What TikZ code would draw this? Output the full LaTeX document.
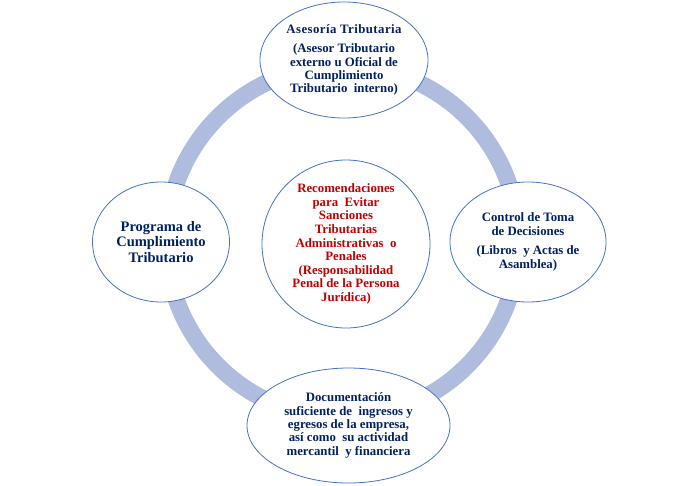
\documentclass[tikz,border=0pt]{standalone}
\usepackage{fontspec}
\setmainfont{Liberation Serif}
\usetikzlibrary{shapes.geometric}
\definecolor{anillo}{RGB}{175,188,222}
\definecolor{borde}{RGB}{68,114,196}
\definecolor{azul}{RGB}{0,32,96}
\definecolor{rojo}{RGB}{192,0,0}
\begin{document}
\begin{tikzpicture}[x=1pt,y=-1pt,
    etapa/.style={ellipse,draw=borde,line width=0.8pt,fill=white,inner sep=0pt,align=center,text=azul,font=\bfseries\fontsize{12.8}{13.4}\selectfont},
    centro/.style={circle,draw=borde,line width=0.8pt,fill=white,inner sep=0pt,minimum size=168pt,align=center,text=rojo,font=\bfseries\fontsize{12.8}{13.6}\selectfont}]
      \useasboundingbox (0,0) rectangle (693,485);
      \coordinate (eje) at (342.5,241.5);
      \draw[anillo,line width=17pt] (eje) circle[radius=176];
      \node[centro] (recomendaciones) at (346,244) {Recomendaciones\\para\ \ Evitar\\Sanciones\\Tributarias\\Administrativas\ \ o\\Penales\\(Responsabilidad\\Penal de la Persona\\Jurídica)};
      \node[etapa,minimum width=168pt,minimum height=116pt] (asesoria) at (344,60) {{\addfontfeatures{LetterSpace=3.5}Asesoría Tributaria}\\[6pt](Asesor Tributario\\externo u Oficial de\\Cumplimiento\\Tributario\ \ interno)};
      \node[etapa,minimum width=156pt,minimum height=120pt] (control) at (528,242) {Control de Toma\\de Decisiones\\[6pt](Libros\ \ y Actas de\\Asamblea)};
      \node[etapa,minimum width=203pt,minimum height=115pt] (documentacion) at (348.5,425.5) {Documentación\\suficiente de\ \ ingresos y\\egresos de la empresa,\\así como\ \ su actividad\\mercantil\ \ y financiera};
      \node[etapa,minimum width=137pt,minimum height=120pt,font=\bfseries\fontsize{14.5}{15.4}\selectfont] (programa) at (161,242) {Programa de\\Cumplimiento\\Tributario};
    \end{tikzpicture}
\end{document}
